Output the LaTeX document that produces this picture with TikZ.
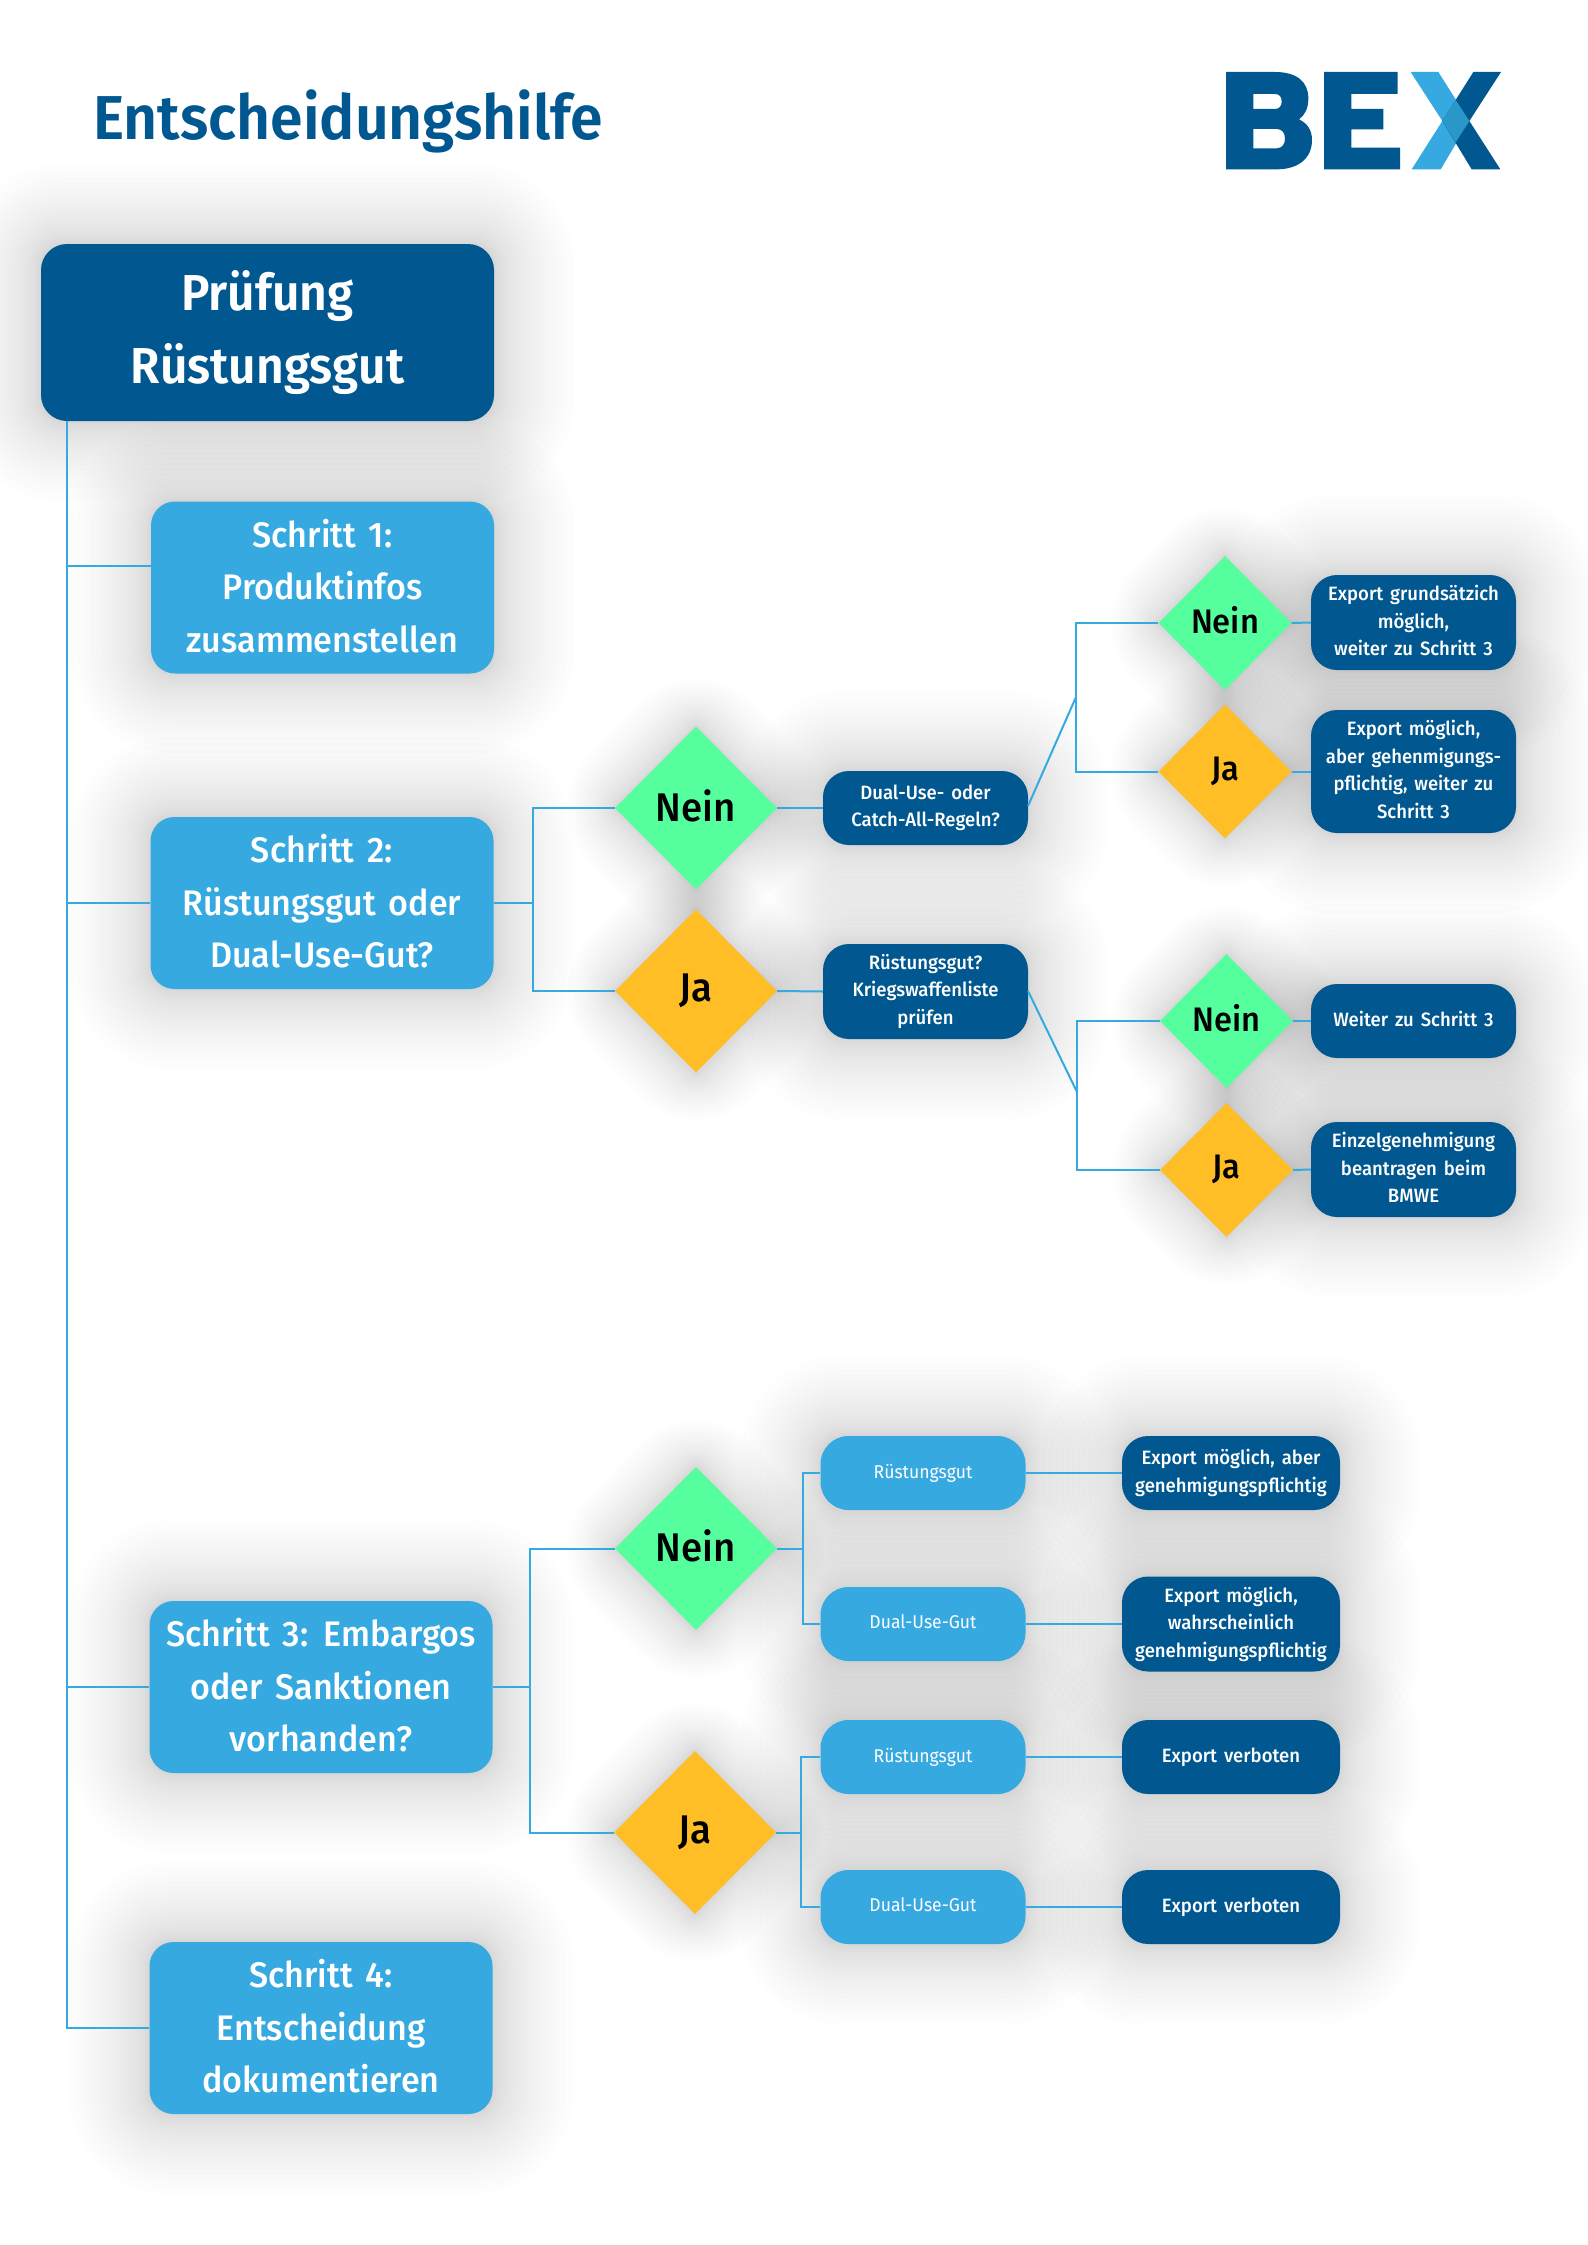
\documentclass[tikz,border=0pt]{standalone}
\usepackage{fontspec}
\newfontfamily\freg{Fira Sans}[FakeStretch=0.95]
\newfontfamily\fmed{Fira Sans Medium}[FakeStretch=0.96,WordSpace=1]
\newfontfamily\fstep{Fira Sans Medium}[FakeStretch=0.96,WordSpace=1.5]
\newfontfamily\fsemi{Fira Sans SemiBold}[FakeStretch=0.95]
\usetikzlibrary{shapes.geometric,calc,backgrounds}
\definecolor{bexdark}{HTML}{01578F}
\definecolor{bexlight}{HTML}{36A9E1}
\definecolor{bexmid}{HTML}{2A97C9}
\definecolor{bexno}{HTML}{55FF9E}
\definecolor{bexyes}{HTML}{FFBE26}
\tikzset{
  lift/.style={execute at end node={\rule[-#1]{0pt}{0pt}}},
  stepbox/.style={draw=none,fill=bexlight,text=white,rounded corners=24pt,minimum width=343pt,minimum height=172pt,align=center,inner sep=0pt,lift=4pt,font=\fstep\fontsize{35.5}{52.5}\selectfont},
  startbox/.style={stepbox,fill=bexdark,rounded corners=26pt,minimum width=453pt,minimum height=177pt,lift=1pt,font=\fsemi\fontsize{50.5}{73}\selectfont},
  askbox/.style={fill=bexdark,text=white,rounded corners=26pt,minimum width=205pt,align=center,inner sep=0pt,lift=4pt,font=\fmed\fontsize{19.3}{27.6}\selectfont},
  endbox/.style={askbox},
  typebox/.style={askbox,fill=bexlight,rounded corners=28pt,minimum height=74pt,font=\freg\fontsize{18.5}{27}\selectfont},
  nobig/.style={diamond,fill=bexno,minimum width=162pt,minimum height=163pt,inner sep=0pt,lift=5pt,font=\fmed\fontsize{40}{40}\selectfont},
  yesbig/.style={nobig,fill=bexyes},
  nosmall/.style={nobig,minimum width=133pt,minimum height=134pt,lift=6pt,font=\fmed\fontsize{34}{34}\selectfont},
  yessmall/.style={nosmall,fill=bexyes},
  link/.style={draw=bexlight,line width=2pt},
}
\begin{document}
\begin{tikzpicture}[x=1pt,y=-1pt]
        \useasboundingbox (0,0) rectangle (1587,2245);

        \node (title) [anchor=base west,text=bexdark,inner sep=0pt,font=\fsemi\fontsize{62}{62}\selectfont] at (93,140) {Entscheidungshilfe};

        % logo
        \begin{scope}[shift={(1180,40)},xscale=1/3,yscale=1/3]
        \fill[bexdark,even odd rule] (138,96) -- (285,96) .. controls (350,96) and (385,125) .. (385,175) .. controls (385,205) and (375,225) .. (357,238) .. controls (382,250) and (396,270) .. (396,300) .. controls (396,355) and (355,388) .. (290,388) -- (138,388) -- cycle
            (220,162) -- (220,207) -- (285,207) .. controls (298,207) and (305,198) .. (305,185) .. controls (305,170) and (298,162) .. (285,162) -- cycle
            (220,267) -- (220,325) -- (290,325) .. controls (306,325) and (315,312) .. (315,296) .. controls (315,279) and (306,267) .. (290,267) -- cycle;
        \fill[bexdark] (432,96) -- (653,96) -- (653,162) -- (514,162) -- (514,207) -- (610,207) -- (610,268) -- (514,268) -- (514,323) -- (660,323) -- (660,388) -- (432,388) -- cycle;
        \fill[bexlight] (692,96) -- (775,96) -- (868,243) -- (782,388) -- (695,388) -- (787,243) -- cycle;
        \fill[bexdark] (880,96) -- (963,96) -- (868,243) -- (961,388) -- (875,388) -- (787,243) -- cycle;
        \fill[bexmid] (827,180) -- (868,243) -- (827,307) -- (787,243) -- cycle;
        \end{scope}

        \node (start) [startbox] at (267.5,332.5) {Prüfung\\Rüstungsgut};
        \node (step1) [stepbox] at (322.5,587.5) {Schritt 1:\\Produktinfos\\zusammenstellen};
        \node (step2) [stepbox] at (322,903) {Schritt 2:\\Rüstungsgut oder\hspace*{9pt}\\Dual-Use-Gut?};
        \node (step3) [stepbox] at (321,1687) {Schritt 3: Embargos\\oder Sanktionen\\vorhanden?};
        \node (step4) [stepbox] at (321,2028) {Schritt 4:\\Entscheidung\\dokumentieren};

        % step 2
        \node (no2) [nobig] at (696,808) {Nein};
        \node (yes2) [yesbig] at (696,991) {Ja};
        \node (dualq) [askbox,minimum height=74pt] at (925.5,808) {Dual-Use- oder\\Catch-All-Regeln?};
        \node (listq) [askbox,minimum height=95pt] at (925.5,991.5) {Rüstungsgut?\\Kriegswaffenliste\\prüfen};
        \node (no2a) [nosmall] at (1225,623) {Nein};
        \node (yes2a) [yessmall] at (1225,771.5) {Ja};
        \node (no2b) [nosmall] at (1226.5,1021) {Nein};
        \node (yes2b) [yessmall] at (1226.5,1170) {Ja};
        \node (end1) [endbox,minimum height=95pt] at (1413.5,622.5) {Export grundsätzich\\möglich,\\weiter zu Schritt 3};
        \node (end2) [endbox,minimum height=123pt] at (1413.5,771.5) {Export möglich,\\aber gehenmigungs-\\pflichtig, weiter zu\\Schritt 3};
        \node (end3) [endbox,minimum height=74pt] at (1413.5,1021) {Weiter zu Schritt 3};
        \node (end4) [endbox,minimum height=95pt] at (1413.5,1169.5) {Einzelgenehmigung\\beantragen beim\\BMWE};

        % step 3
        \node (no3) [nobig] at (696,1548.5) {Nein};
        \node (yes3) [yesbig] at (695,1832.5) {Ja};
        \node (type1) [typebox] at (923,1473) {Rüstungsgut};
        \node (type2) [typebox] at (923,1624) {Dual-Use-Gut};
        \node (type3) [typebox] at (923,1757) {Rüstungsgut};
        \node (type4) [typebox] at (923,1907) {Dual-Use-Gut};
        \node (end5) [endbox,minimum width=218pt,minimum height=74pt] at (1231,1473) {Export möglich, aber\\genehmigungspflichtig};
        \node (end6) [endbox,minimum width=218pt,minimum height=95pt] at (1231,1624) {Export möglich,\\wahrscheinlich\\genehmigungspflichtig};
        \node (end7) [endbox,minimum width=218pt,minimum height=74pt] at (1231,1757) {Export verboten};
        \node (end8) [endbox,minimum width=218pt,minimum height=74pt] at (1231,1907) {Export verboten};

        % free ends of the connectors
        \coordinate (trunk) at (67,421);
        \coordinate (in1) at (151,566);
        \coordinate (fork2) at (533,903);
        \coordinate (fork3) at (530,1687);
        \coordinate (fork2a) at (1076,697);
        \coordinate (fork2b) at (1077,1092);
        \coordinate (fork3a) at (802.5,1548.5);
        \coordinate (fork3b) at (801,1832.5);
        \coordinate (out2a) at (1028,806);
        \coordinate (out2b) at (1028,991);

        \draw [link] (trunk) -- (trunk |- step4.west) -- (step4.west);
        \draw [link] (in1) -- (in1 -| trunk);
        \draw [link] (step2.west) -- (step2.west -| trunk);
        \draw [link] (step3.west) -- (step3.west -| trunk);

        \draw [link] (step2.east) -- (fork2);
        \draw [link] (no2.west) -- (no2.west -| fork2) -- (yes2.west -| fork2) -- (yes2.west);
        \draw [link] (no2.east) -- (dualq.west);
        \draw [link] (yes2.east) -- (listq.west);
        \draw [link] (out2a) -- (fork2a);
        \draw [link] (out2b) -- (fork2b);
        \draw [link] (no2a.west) -- (no2a.west -| fork2a) -- (yes2a.west -| fork2a) -- (yes2a.west);
        \draw [link] (no2b.west) -- (no2b.west -| fork2b) -- (yes2b.west -| fork2b) -- (yes2b.west);
        \draw [link] (no2a.east) -- (end1.west);
        \draw [link] (yes2a.east) -- (end2.west);
        \draw [link] (no2b.east) -- (end3.west);
        \draw [link] (yes2b.east) -- (end4.west);

        \draw [link] (step3.east) -- (fork3);
        \draw [link] (no3.west) -- (no3.west -| fork3) -- (yes3.west -| fork3) -- (yes3.west);
        \draw [link] (no3.east) -- (fork3a);
        \draw [link] (yes3.east) -- (fork3b);
        \draw [link] (type1.west) -- (type1.west -| fork3a) -- (type2.west -| fork3a) -- (type2.west);
        \draw [link] (type3.west) -- (type3.west -| fork3b) -- (type4.west -| fork3b) -- (type4.west);
        \foreach \i/\j in {1/5,2/6,3/7,4/8} {
            \draw [link] (type\i.east) -- (end\j.west);
        }

        % soft shadows
        \begin{scope}[on background layer]
        \fill[white] (0,0) rectangle (1587,2245);
        \foreach \n in {start,step1,step2,step3,step4,dualq,listq,end1,end2,end3,end4,type1,type2,type3,type4,end5,end6,end7,end8} {
        \foreach \i in {1,...,20} {
            \pgfmathsetmacro{\r}{80*(\i/20)^1.7}
            \fill[black,opacity=0.008,rounded corners=\r pt+22pt] ($(\n.north west)+(-\r,-\r)$) rectangle ($(\n.south east)+(\r,\r)$);
        }
        }
        \foreach \n in {no2,yes2,no2a,yes2a,no2b,yes2b,no3,yes3} {
        \foreach \i in {1,...,20} {
            \pgfmathsetmacro{\r}{80*(\i/20)^1.7}
            \fill[black,opacity=0.008,rounded corners=\r pt] ($(\n.north)+(0,-\r)$) -- ($(\n.east)+(\r,0)$) -- ($(\n.south)+(0,\r)$) -- ($(\n.west)+(-\r,0)$) -- cycle;
        }
        }
        \end{scope}
\end{tikzpicture}
\end{document}
